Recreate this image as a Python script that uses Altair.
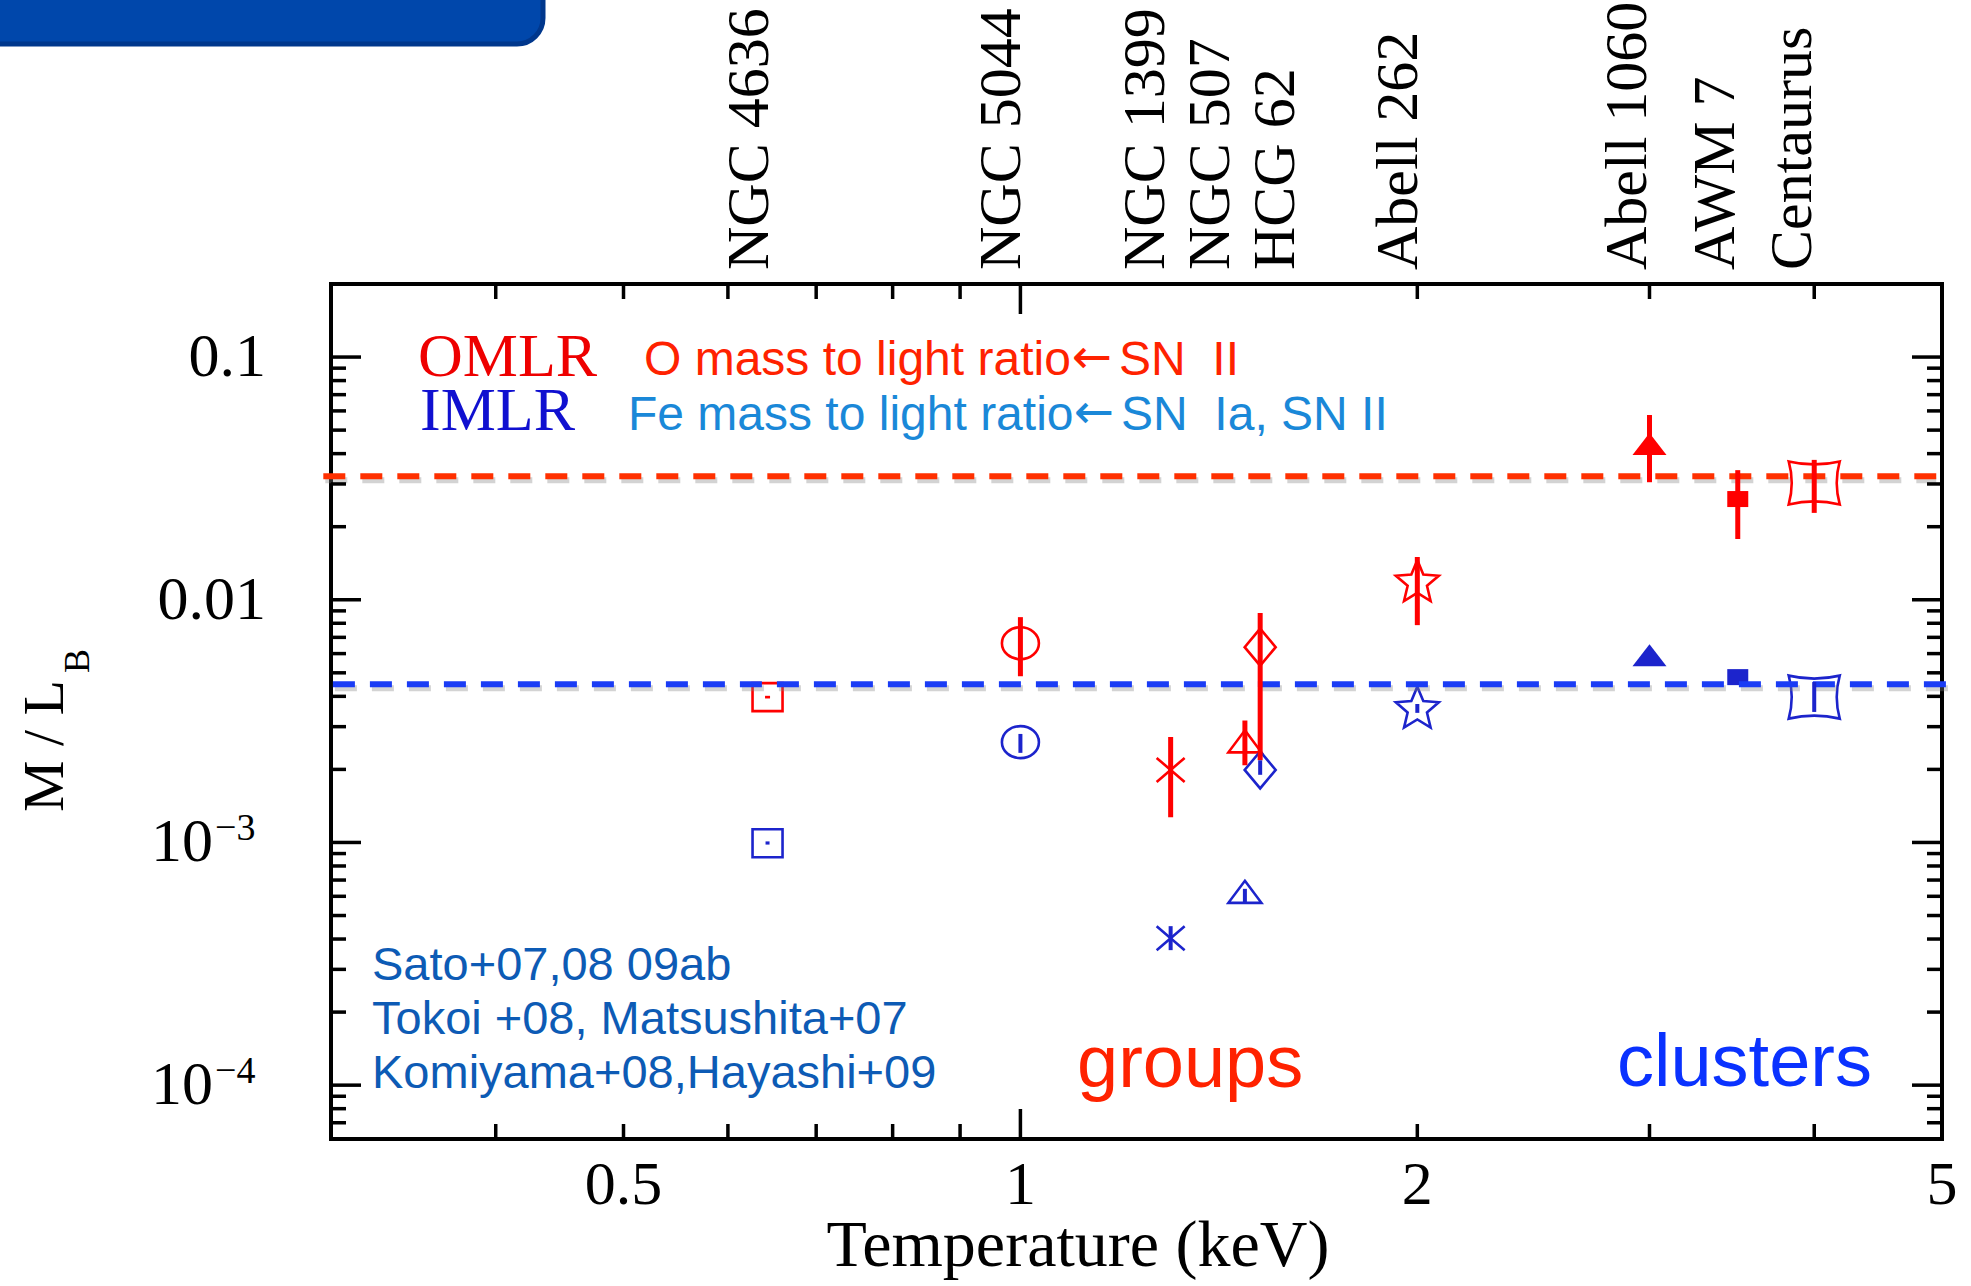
import math
import altair as alt
import pandas as pd

# ---------------- data ----------------
names = ["NGC 4636", "NGC 5044", "NGC 1399", "NGC 507", "HCG 62",
         "Abell 262", "Abell 1060", "AWM 7", "Centaurus"]
temps = [0.643, 1.0, 1.30, 1.48, 1.52, 2.0, 3.0, 3.5, 4.0]
label_temps = [0.643, 1.0, 1.286, 1.44, 1.613, 2.0, 2.98, 3.48, 3.98]

o_val = [0.00397, 0.00662, 0.00199, 0.00261, 0.00638, 0.0120, 0.0438, 0.0260, 0.0303]
o_lo = [0.00392, 0.00484, 0.00127, 0.00208, 0.00218, 0.00786, 0.0305, 0.0178, 0.0228]
o_hi = [0.00402, 0.00848, 0.00272, 0.00318, 0.00881, 0.0150, 0.0577, 0.0342, 0.0377]

fe_val = [0.000993, 0.00259, 0.000403, 0.000626, 0.00199, 0.00361, 0.00591, 0.00480, 0.00397]
fe_lo = [0.00098, 0.00234, 0.00036, 0.000563, 0.00190, 0.00342, 0.00591, 0.00480, 0.00345]
fe_hi = [0.00101, 0.00280, 0.000452, 0.000644, 0.00218, 0.00372, 0.00591, 0.00480, 0.00458]

filled_names = ["Abell 1060", "AWM 7"]

o_level = [0.0323]
o_span = [0.296, 4.95]
fe_level = [0.00449]
fe_span = [0.301, 5.10]

x_major_ticks = [1]
x_minor_ticks = [0.4, 0.5, 0.6, 0.7, 0.8, 0.9, 2, 3, 4]
y_major_ticks = [1e-4, 1e-3, 1e-2, 1e-1]
y_minor_ticks = [7e-5, 8e-5, 9e-5,
                 2e-4, 3e-4, 4e-4, 5e-4, 6e-4, 7e-4, 8e-4, 9e-4,
                 2e-3, 3e-3, 4e-3, 5e-3, 6e-3, 7e-3, 8e-3, 9e-3,
                 0.02, 0.03, 0.04, 0.05, 0.06, 0.07, 0.08, 0.09]

x_tick_vals = [0.5, 1, 2, 5]
x_tick_text = ["0.5", "1", "2", "5"]
y_dec_vals = [0.1, 0.01]
y_dec_text = ["0.1", "0.01"]
y_pow_vals = [1e-3, 1e-4]
y_pow_base = ["10", "10"]
y_pow_exp = ["\u22123", "\u22124"]

x_title = "Temperature (keV)"
y_title_main = "M / L"
y_title_sub = "B"
legend_tags = ["OMLR", "IMLR"]
legend_head = ["O mass to light ratio", "Fe mass to light ratio"]
legend_arrow = "\u2190"
legend_tail = ["SN\u00a0\u00a0II", "SN\u00a0\u00a0Ia, SN II"]
refs = ["Sato+07,08 09ab", "Tokoi +08, Matsushita+07", "Komiyama+08,Hayashi+09"]
group_label = "groups"
cluster_label = "clusters"

# ---------------- styles ----------------
W, H = 1611, 855
SERIF = "Liberation Serif"
SANS = "Liberation Sans"
RED = "#ff0000"
BLUE = "#1c24cc"
RED_LINE = "#ff3000"
BLUE_LINE = "#1a3cf5"

xs = alt.Scale(type="log", domain=[0.3, 5], nice=False)
ys = alt.Scale(type="log", domain=[6e-5, 0.2], nice=False)


def p(v):
    return round(v / 25.0, 4)


def rect_path(hw, hh):
    return f"M{-p(hw)},{-p(hh)}L{p(hw)},{-p(hh)}L{p(hw)},{p(hh)}L{-p(hw)},{p(hh)}Z"


def ellipse_path(rx, ry):
    a, b = p(rx), p(ry)
    return f"M{-a},0A{a},{b},0,1,0,{a},0A{a},{b},0,1,0,{-a},0Z"


def tri_path(hw, hh):
    return f"M0,{-p(hh)}L{p(hw)},{p(hh)}L{-p(hw)},{p(hh)}Z"


def diamond_path(hw, hh):
    return f"M0,{-p(hh)}L{p(hw)},0L0,{p(hh)}L{-p(hw)},0Z"


def x_path(hw, hh):
    return f"M{-p(hw)},{-p(hh)}L{p(hw)},{p(hh)}M{-p(hw)},{p(hh)}L{p(hw)},{-p(hh)}"


def star_path(R, ratio):
    pts = []
    shift = 0.0955 * R
    for k in range(10):
        r = R if k % 2 == 0 else R * ratio
        ang = -math.pi / 2 + k * math.pi / 5
        pts.append((p(r * math.cos(ang)), p(r * math.sin(ang) + shift)))
    return "M" + "L".join(f"{a},{b}" for a, b in pts) + "Z"


def concave_path(hw, hh, c):
    a, b, k = p(hw), p(hh), p(c)
    return (f"M{-a},{-b}Q0,{-b + k},{a},{-b}Q{a - k},0,{a},{b}"
            f"Q0,{b - k},{-a},{b}Q{-a + k},0,{-a},{-b}Z")


shapes = [
    rect_path(15, 14),
    ellipse_path(18.5, 16),
    x_path(14, 12),
    tri_path(16.5, 11),
    diamond_path(15.5, 18.5),
    star_path(22.6, 0.45),
    tri_path(17, 11),
    rect_path(10.5, 8),
    concave_path(25.5, 21.5, 6),
]
shape_enc = alt.Shape("name:N", scale=alt.Scale(domain=names, range=shapes), legend=None)


def series_df(vals, lo, hi):
    return pd.DataFrame({"name": names, "temp": temps, "val": vals, "lo": lo, "hi": hi,
                         "filled": [n in filled_names for n in names]})


df_o = series_df(o_val, o_lo, o_hi)
df_fe = series_df(fe_val, fe_lo, fe_hi)

layers = []

# banner at top-left
banner = alt.Chart(pd.DataFrame({"a": [0]})).mark_rect(
    cornerRadius=26, fill="#0047ab", stroke="#00378c", strokeWidth=5
).encode(x=alt.value(-360), x2=alt.value(212), y=alt.value(-330), y2=alt.value(-240))
layers.append(banner)


def markers(df, color):
    base = alt.Chart(df).encode(
        x=alt.X("temp:Q", scale=xs, axis=None),
        y=alt.Y("val:Q", scale=ys, axis=None),
        shape=shape_enc,
    )
    open_m = base.transform_filter("!datum.filled").mark_point(
        filled=False, size=2500, strokeWidth=2.6, color=color, opacity=1)
    fill_m = base.transform_filter("datum.filled").mark_point(
        filled=True, size=2500, strokeWidth=0, color=color, opacity=1)
    return [open_m, fill_m]


def errbars(df, color, width):
    return alt.Chart(df).mark_rule(color=color, strokeWidth=width).encode(
        x=alt.X("temp:Q", scale=xs, axis=None),
        y=alt.Y("lo:Q", scale=ys, axis=None),
        y2="hi:Q",
    )


def dashed(level, span, color):
    df = pd.DataFrame({"x1": [span[0]], "x2": [span[1]], "lvl": level})
    enc = dict(x=alt.X("x1:Q", scale=xs, axis=None), x2="x2:Q",
               y=alt.Y("lvl:Q", scale=ys, axis=None))
    shadow = alt.Chart(df).mark_rule(color="#808080", opacity=0.35, strokeWidth=6,
                                     strokeDash=[22, 15], xOffset=2, yOffset=4).encode(**enc)
    line = alt.Chart(df).mark_rule(color=color, strokeWidth=6,
                                   strokeDash=[22, 15]).encode(**enc)
    return [shadow, line]


layers += markers(df_o, RED)
layers += markers(df_fe, BLUE)
layers += dashed(o_level, o_span, RED_LINE)
layers += dashed(fe_level, fe_span, BLUE_LINE)
layers.append(errbars(df_o, RED, 5))
layers.append(errbars(df_fe, BLUE, 4))


# inward ticks on all four sides
def xticks(vals, length):
    df = pd.DataFrame({"t": vals})
    bottom = alt.Chart(df).mark_rule(color="black", strokeWidth=3.5).encode(
        x=alt.X("t:Q", scale=xs, axis=None), y=alt.value(H), y2=alt.value(H - length))
    top = alt.Chart(df).mark_rule(color="black", strokeWidth=3.5).encode(
        x=alt.X("t:Q", scale=xs, axis=None), y=alt.value(0), y2=alt.value(length))
    return [bottom, top]


def yticks(vals, length):
    df = pd.DataFrame({"t": vals})
    left = alt.Chart(df).mark_rule(color="black", strokeWidth=3.5).encode(
        y=alt.Y("t:Q", scale=ys, axis=None), x=alt.value(0), x2=alt.value(length))
    right = alt.Chart(df).mark_rule(color="black", strokeWidth=3.5).encode(
        y=alt.Y("t:Q", scale=ys, axis=None), x=alt.value(W), x2=alt.value(W - length))
    return [left, right]


layers += xticks(x_major_ticks, 30) + xticks(x_minor_ticks, 15)
layers += yticks(y_major_ticks, 30) + yticks(y_minor_ticks, 15)

# tick labels
layers.append(alt.Chart(pd.DataFrame({"v": x_tick_vals, "t": x_tick_text})).mark_text(
    font=SERIF, fontSize=62, color="black", align="center", baseline="middle").encode(
    x=alt.X("v:Q", scale=xs, axis=None), y=alt.value(H + 46), text="t:N"))
layers.append(alt.Chart(pd.DataFrame({"v": y_dec_vals, "t": y_dec_text})).mark_text(
    font=SERIF, fontSize=62, color="black", align="right", baseline="middle").encode(
    y=alt.Y("v:Q", scale=ys, axis=None), x=alt.value(-65), text="t:N"))
pow_df = pd.DataFrame({"v": y_pow_vals, "b": y_pow_base, "e": y_pow_exp})
layers.append(alt.Chart(pow_df).mark_text(
    font=SERIF, fontSize=62, color="black", align="right", baseline="middle").encode(
    y=alt.Y("v:Q", scale=ys, axis=None), x=alt.value(-118), text="b:N"))
layers.append(alt.Chart(pow_df).mark_text(
    font=SERIF, fontSize=38, color="black", align="left", baseline="middle", dy=-13).encode(
    y=alt.Y("v:Q", scale=ys, axis=None), x=alt.value(-116), text="e:N"))

# object names along the top
layers.append(alt.Chart(pd.DataFrame({"n": names, "lt": label_temps})).mark_text(
    font=SERIF, fontSize=60, color="black", angle=270, align="left",
    baseline="alphabetic").encode(
    x=alt.X("lt:Q", scale=xs, axis=None), y=alt.value(-14), text="n:N"))


def txt(s, x, y, size, color, font, align="left", baseline="alphabetic", angle=0, **kw):
    return alt.Chart(pd.DataFrame({"t": [s]})).mark_text(
        font=font, fontSize=size, color=color, align=align, baseline=baseline,
        angle=angle, **kw).encode(text="t:N", x=alt.value(x), y=alt.value(y))


layers.append(txt(x_title, 747, 982, 66, "black", SERIF, align="center"))
layers.append(txt(y_title_main, -285, 462, 58, "black", SERIF, align="center",
                  baseline="middle", angle=270))
layers.append(txt(y_title_sub, -253, 377, 36, "black", SERIF, align="center",
                  baseline="middle", angle=270))

layers.append(txt(legend_tags[0], 87, 92, 62, "#ee0000", SERIF))
layers.append(txt(legend_tags[1], 89, 146, 62, "#1010d0", SERIF))
# legend descriptions: text, arrow, text
layers.append(txt(legend_head[0], 313, 91, 48, "#ff2200", SANS))
layers.append(txt(legend_arrow, 741, 89, 48, "#ff2200", "DejaVu Sans"))
layers.append(txt(legend_tail[0], 788, 91, 48, "#ff2200", SANS))
layers.append(txt(legend_head[1], 297, 146, 48, "#1a88d8", SANS))
layers.append(txt(legend_arrow, 743, 144, 48, "#1a88d8", "DejaVu Sans"))
layers.append(txt(legend_tail[1], 790, 146, 48, "#1a88d8", SANS))

layers.append(txt("\n".join(refs), 41, 696, 47, "#0d5bb5", SANS, lineBreak="\n", lineHeight=54))
layers.append(txt(group_label, 746, 803, 74, "#ff2200", SANS))
layers.append(txt(cluster_label, 1286, 802, 74, "#0a32ff", SANS))

chart = alt.layer(*layers).properties(
    width=W, height=H,
    autosize=alt.AutoSizeParams(type="none"),
    padding={"left": 331, "top": 284, "right": 29, "bottom": 147},
    background="white",
).configure_view(stroke="black", strokeWidth=4)

chart.save("out.html", embed_options={"renderer": "svg", "actions": False})
